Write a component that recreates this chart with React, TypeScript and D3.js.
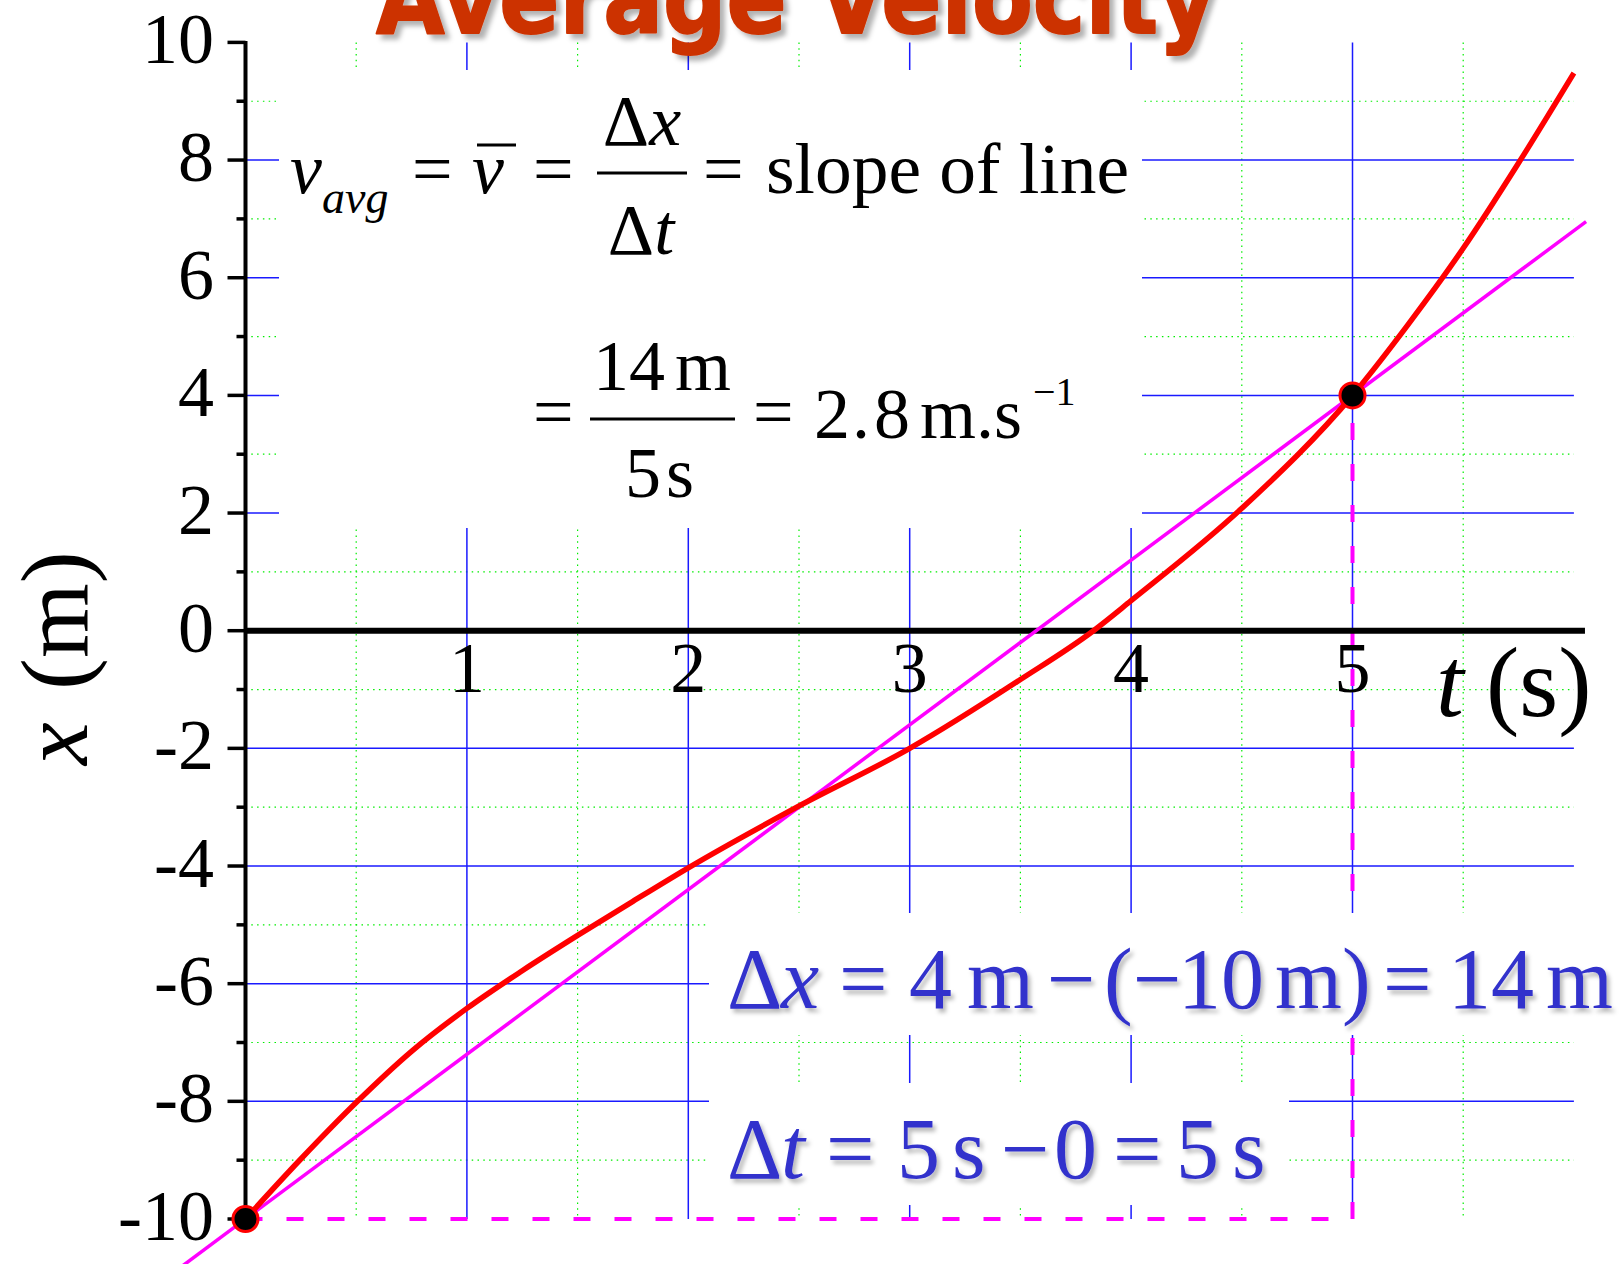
import React from 'react';
import * as d3 from 'd3';

// ---- data -------------------------------------------------------------
const T_MAJOR = [1, 2, 3, 4, 5];
const T_MINOR = [0.5, 1.5, 2.5, 3.5, 4.5, 5.5];
const X_MAJOR_GRID = [-8, -6, -4, -2, 2, 4, 6, 8];
const X_MINOR = [-9, -7, -5, -3, -1, 1, 3, 5, 7, 9];

const Y_TICKS = [-10, -8, -6, -4, -2, 0, 2, 4, 6, 8, 10];
const Y_TICK_LABELS = ['-10', '-8', '-6', '-4', '-2', '0', '2', '4', '6', '8', '10'];
const T_TICKS = [1, 2, 3, 4, 5];
const T_TICK_LABELS = ['1', '2', '3', '4', '5'];

// position–time curve x(t)
const CURVE_T = [0, 0.25, 0.5, 0.75, 1.0, 1.25, 1.5, 1.75, 2.0, 2.49, 3.0, 3.5, 3.83, 4.0, 4.5, 5.0, 5.25, 5.5, 5.75, 6.0];
const CURVE_X = [-10, -8.98, -8.02, -7.15, -6.42, -5.78, -5.18, -4.6, -4.03, -3.0, -2.0, -0.83, 0, 0.51, 2.08, 4.0, 5.2, 6.5, 7.95, 9.48];

// the two end points and the secant through them
const POINT_T = [0, 5];
const POINT_X = [-10, 4];
const AVG_VELOCITY = 2.8; // m/s
const SECANT_T = [-0.3, 6.055];

// ---- layout -----------------------------------------------------------
const W = 1622;
const H = 1264;
const SERIF = "'Liberation Serif', 'Times New Roman', Times, serif";
const BLUE_TEXT = '#3333cc';

// white panels behind the annotation text
const PANELS = [
  { x0: 279, y0: 70, x1: 1142, y1: 528 },
  { x0: 709, y0: 913, x1: 1622, y1: 1035 },
  { x0: 709, y0: 1083, x1: 1289, y1: 1205 },
];

export default function App() {
  const x = d3.scaleLinear().domain([0, 6]).range([245.5, 1573.9]);
  const y = d3.scaleLinear().domain([-10, 10]).range([1219, 42.4]);

  const curve = d3
    .line<number>()
    .x((_, i) => x(CURVE_T[i]))
    .y((d) => y(d))
    .curve(d3.curveMonotoneX)(CURVE_X) as string;

  const secantX = (t: number) => POINT_X[0] + AVG_VELOCITY * (t - POINT_T[0]);

  const gridTop = y(10);
  const gridBottom = y(-10);
  const gridLeft = x(0);
  const gridRight = x(6);

  return (
    <svg
      width={W}
      height={H}
      viewBox={`0 0 ${W} ${H}`}
      style={{ position: 'absolute', left: 0, top: 0, background: '#fff' }}
    >
      <defs>
        <filter id="titleShadow" x="-5%" y="-50%" width="115%" height="250%">
          <feDropShadow dx="5" dy="5" stdDeviation="2.5" floodColor="#000" floodOpacity="0.3" />
        </filter>
        <filter id="textShadow" x="-5%" y="-30%" width="115%" height="170%">
          <feDropShadow dx="3" dy="4" stdDeviation="2" floodColor="#000" floodOpacity="0.28" />
        </filter>
      </defs>
      <rect x={0} y={0} width={W} height={H} fill="#fff" />

      {/* minor grid */}
      <g stroke="#00ee00" strokeWidth={1.2} strokeDasharray="1.5 4.3">
        {T_MINOR.map((t) => (
          <line key={`tv${t}`} x1={x(t)} x2={x(t)} y1={gridTop} y2={gridBottom} />
        ))}
        {X_MINOR.map((v) => (
          <line key={`xh${v}`} x1={gridLeft} x2={gridRight} y1={y(v)} y2={y(v)} />
        ))}
      </g>

      {/* major grid */}
      <g stroke="#1a1aff" strokeWidth={1.5}>
        {T_MAJOR.map((t) => (
          <line key={`TV${t}`} x1={x(t)} x2={x(t)} y1={gridTop} y2={gridBottom} />
        ))}
        {X_MAJOR_GRID.map((v) => (
          <line key={`XH${v}`} x1={gridLeft} x2={gridRight} y1={y(v)} y2={y(v)} />
        ))}
      </g>

      {/* dashed guides from the start point across and up to the end point */}
      <path
        d={`M${x(POINT_T[0])},${y(POINT_X[0])}H${x(POINT_T[1])}V${y(POINT_X[1])}`}
        fill="none"
        stroke="#ff00ff"
        strokeWidth={4}
        strokeDasharray="17 24"
      />

      {PANELS.map((p, i) => (
        <rect key={i} x={p.x0} y={p.y0} width={p.x1 - p.x0} height={p.y1 - p.y0} fill="#fff" />
      ))}

      {/* axes */}
      <line x1={x(0)} x2={x(6.05)} y1={y(0)} y2={y(0)} stroke="#000" strokeWidth={6} />
      <line x1={x(0)} x2={x(0)} y1={y(10) - 1.5} y2={y(-10) + 1.5} stroke="#000" strokeWidth={4} />
      <g stroke="#000" strokeWidth={3.5}>
        {d3.range(-10, 11).map((v) => (
          <line key={`yt${v}`} x1={x(0) - (v % 2 === 0 ? 18 : 9)} x2={x(0)} y1={y(v)} y2={y(v)} />
        ))}
      </g>

      {/* tick labels */}
      <g fontFamily={SERIF} fontSize={72} fill="#000">
        {Y_TICKS.map((v, i) => (
          <text key={`yl${v}`} x={214} y={y(v) + 21} textAnchor="end">
            {Y_TICK_LABELS[i]}
          </text>
        ))}
        {T_TICKS.map((t, i) => (
          <text key={`tl${t}`} x={x(t)} y={692} textAnchor="middle">
            {T_TICK_LABELS[i]}
          </text>
        ))}
      </g>

      {/* axis titles */}
      <text fontFamily={SERIF} fontSize={100} y={716}>
        <tspan x={1436} fontStyle="italic">t</tspan>
        <tspan x={1486}>(s)</tspan>
      </text>
      <text fontFamily={SERIF} fontSize={96} transform="translate(87,0) rotate(-90)">
        <tspan x={-765} y={0} fontStyle="italic">x</tspan>
        <tspan x={-690} y={0}>(m)</tspan>
      </text>

      {/* secant and curve */}
      <line
        x1={x(SECANT_T[0])}
        y1={y(secantX(SECANT_T[0]))}
        x2={x(SECANT_T[1])}
        y2={y(secantX(SECANT_T[1]))}
        stroke="#ff00ff"
        strokeWidth={3.5}
      />
      <path d={curve} fill="none" stroke="#ff0000" strokeWidth={5.5} strokeLinejoin="round" />

      {POINT_T.map((t, i) => (
        <circle key={`pt${i}`} cx={x(t)} cy={y(POINT_X[i])} r={12.5} fill="#000" stroke="#ff0000" strokeWidth={3} />
      ))}

      {/* title */}
      <text
        x={376}
        y={33}
        fontFamily="'DejaVu Sans', Verdana, sans-serif"
        fontWeight="bold"
        fontSize={100}
        fill="#cc3300"
        stroke="#cc3300"
        strokeWidth={2}
        strokeLinejoin="round"
        textLength={840}
        lengthAdjust="spacingAndGlyphs"
        filter="url(#titleShadow)"
      >
        Average Velocity
      </text>

      {/* definition of average velocity */}
      <g fontFamily={SERIF} fill="#000">
        <text x={290} y={193} fontSize={72} fontStyle="italic">v</text>
        <text x={322} y={213} fontSize={46} fontStyle="italic">avg</text>
        <text x={412} y={193} fontSize={72}>=</text>
        <text x={472} y={193} fontSize={72} fontStyle="italic">v</text>
        <line x1={477} x2={516} y1={145} y2={145} stroke="#000" strokeWidth={3} />
        <text x={533} y={193} fontSize={72}>=</text>
        <text x={642} y={145} fontSize={72} textAnchor="middle">
          Δ<tspan fontStyle="italic">x</tspan>
        </text>
        <line x1={597} x2={687} y1={173} y2={173} stroke="#000" strokeWidth={3} />
        <text x={641} y={254} fontSize={72} textAnchor="middle">
          Δ<tspan fontStyle="italic">t</tspan>
        </text>
        <text x={703} y={193} fontSize={72}>=</text>
        <text x={766} y={193} fontSize={72} textLength={363} lengthAdjust="spacingAndGlyphs">slope of line</text>

        <text x={533} y={436} fontSize={72}>=</text>
        <text y={390} fontSize={72}>
          <tspan x={593}>14</tspan>
          <tspan x={675}>m</tspan>
        </text>
        <line x1={590} x2={735} y1={419} y2={419} stroke="#000" strokeWidth={3} />
        <text y={497} fontSize={72}>
          <tspan x={625}>5</tspan>
          <tspan x={666}>s</tspan>
        </text>
        <text x={753} y={436} fontSize={72}>=</text>
        <text y={438} fontSize={72}>
          <tspan x={814}>2</tspan>
          <tspan x={852}>.</tspan>
          <tspan x={874}>8</tspan>
          <tspan x={920}>m</tspan>
          <tspan x={976}>.</tspan>
          <tspan x={994}>s</tspan>
          <tspan x={1033} y={405} fontSize={40}>−1</tspan>
        </text>
      </g>

      {/* displacement and elapsed time */}
      <g fontFamily={SERIF} fontSize={86} fill={BLUE_TEXT} filter="url(#textShadow)">
        <text y={1008}>
          <tspan x={727}>Δ</tspan>
          <tspan x={781} fontStyle="italic">x</tspan>
          <tspan x={839}>=</tspan>
          <tspan x={909}>4</tspan>
          <tspan x={967}>m</tspan>
          <tspan x={1047}>−</tspan>
          <tspan x={1104}>(</tspan>
          <tspan x={1133}>−</tspan>
          <tspan x={1178}>10</tspan>
          <tspan x={1275}>m</tspan>
          <tspan x={1342}>)</tspan>
          <tspan x={1383}>=</tspan>
          <tspan x={1448}>14</tspan>
          <tspan x={1546}>m</tspan>
        </text>
        <text y={1178}>
          <tspan x={727}>Δ</tspan>
          <tspan x={781} fontStyle="italic">t</tspan>
          <tspan x={826}>=</tspan>
          <tspan x={897}>5</tspan>
          <tspan x={952}>s</tspan>
          <tspan x={1001}>−</tspan>
          <tspan x={1054}>0</tspan>
          <tspan x={1113}>=</tspan>
          <tspan x={1176}>5</tspan>
          <tspan x={1232}>s</tspan>
        </text>
      </g>
    </svg>
  );
}
